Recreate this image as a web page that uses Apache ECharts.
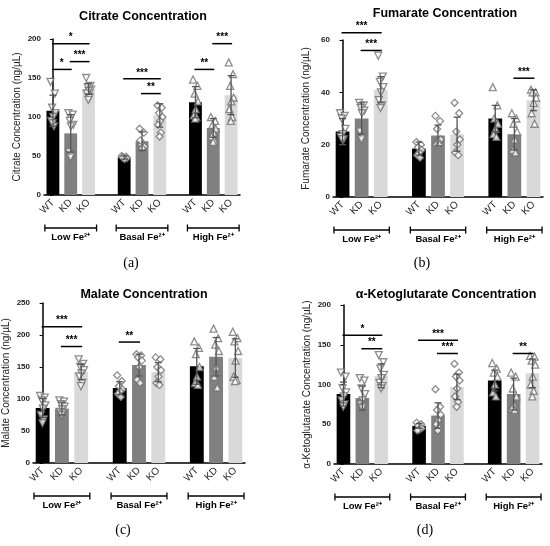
<!DOCTYPE html>
<html><head><meta charset="utf-8">
<script src="https://cdn.jsdelivr.net/npm/echarts@6/dist/echarts.min.js"></script>
<style>html,body{margin:0;padding:0;background:#fff}#c{width:550px;height:546px}</style>
</head><body><div id="c"></div>
<script>
const categories = ['WT','KD','KO'];
const groups = ['Low','Basal','High'];

const citrateMeans = [108,79,136, 48,69,102, 119,86,128];
const citrateSD    = [20,24,7, 2,12,15, 20,12,25];
const citratePts = [
 [145,130,112,105,100,95,88,92],[105,103,95,90,88,55,50,48],[150,140,138,135,133,130,125,122],
 [50,49,48,47,46,48],[85,80,65,62,60,70],[115,112,105,100,95,90,80,75],
 [148,140,130,120,110,102,100,98],[100,95,90,85,80,75,70,68],[170,155,140,125,120,110,100,95]];
const citrateSig = [[0,2,194,'*'],[0,1,161,'*'],[1,2,171,'***'],[4,6,149,'***'],[5,6,130,'**'],[8,9,161,'**'],[9,10,194,'***']];

const fumarateMeans = [25,30,41, 18.5,23.5,24, 30,24,37];
const fumarateSD    = [5,6,5, 2.5,4,6.5, 5,6,4];
const fumaratePts = [
 [32,31,30,26,24,23,22,22],[36,35,34,33,32,25,23,22],[54,46,44,42,40,37,35,34],
 [21,20,19,18,17,16,15],[31,29,26,22,21,20,20],[36,32,25,22,20,17,16],
 [42,35,30,28,26,24,23],[32,30,28,25,22,18,17],[41,40,40,38,36,32,28]];
const fumarateSig = [[0,2,62.8,'***'],[1,2,56,'***'],[9,10,45.4,'***']];

const malateMeans = [86,85,142, 117,153,142, 151,166,164];
const malateSD    = [15,10,12, 10,17,15, 28,30,30];
const malatePts = [
 [105,102,98,90,85,75,68,62],[98,96,92,88,84,80,78,75],[162,155,150,145,140,135,125,120],
 [137,128,120,115,112,108,103],[170,168,165,160,150,130,125],[165,162,150,145,135,125,122],
 [190,180,170,150,135,125,122],[210,195,185,175,150,135,118],[205,195,190,175,160,135,130,128]];
const malateSig = [[0,2,213,'***'],[1,2,182,'***'],[4,5,189,'**']];

const akgMeans = [88,83,111, 48,61,97, 105,88,114];
const akgSD    = [15,15,15, 3,16,16, 13,20,18];
const akgPts = [
 [115,110,95,90,85,80,75,72],[108,105,95,88,80,75,72,70],[137,128,120,112,108,102,98,95],
 [52,50,48,45,43,42],[94,72,68,62,55,50,45,42],[126,115,110,105,95,85,78,72],
 [127,120,115,110,100,90,85],[115,110,95,85,75,70,68],[136,135,130,125,110,100,92,85]];
const akgSig = [[0,2,162,'*'],[1,2,145,'**'],[4,6,155.6,'***'],[5,6,139,'***'],[9,10,139,'**']];

const panels = [
 {title:'Citrate Concentration', yname:'Citrate Concentration (ng/µL)', max:200, interval:50, means:citrateMeans, sd:citrateSD, pts:citratePts, sig:citrateSig,
  grid:{left:44,top:39,width:196,height:156}, tx:138, ty:5, letter:'(a)', lx:131, ly:256},
 {title:'Fumarate Concentration', yname:'Fumarate Concentration (ng/µL)', max:60, interval:20, means:fumarateMeans, sd:fumarateSD, pts:fumaratePts, sig:fumarateSig,
  grid:{left:333,top:40,width:210,height:157}, tx:440, ty:2, letter:'(b)', lx:422, ly:256},
 {title:'Malate Concentration', yname:'Malate Concentration (ng/µL)', max:250, interval:50, means:malateMeans, sd:malateSD, pts:malatePts, sig:malateSig,
  grid:{left:32,top:303,width:213,height:160}, tx:139, ty:283, letter:'(c)', lx:123, ly:523},
 {title:'α-Ketoglutarate Concentration', yname:'α-Ketoglutarate Concentration (ng/µL)', max:200, interval:50, means:akgMeans, sd:akgSD, pts:akgPts, sig:akgSig,
  grid:{left:334,top:305,width:208,height:159}, tx:441, ty:283, letter:'(d)', lx:425, ly:523}
];

const barColors = ['#000000','#808080','#d9d9d9'];
const shapes = ['triangle','diamond','triangle'];
const rots = [180,0,0];
const jit = [-0.22,0.18,-0.08,0.24,0.02,-0.16,0.1,-0.02];
const slotLabels = [];
for (let g=0; g<3; g++){ categories.forEach(c=>slotLabels.push(c)); if(g<2) slotLabels.push(''); }
const FONT = 'Liberation Sans, Arial, sans-serif';

const option = {animation:false, grid:[], xAxis:[], yAxis:[], series:[], title:[], graphic:[]};
panels.forEach((p,pi)=>{
  option.grid.push(Object.assign({containLabel:false}, p.grid));
  const xc = option.xAxis.length;
  option.xAxis.push({type:'category', gridIndex:pi, data:slotLabels, axisTick:{show:false},
    axisLine:{lineStyle:{color:'#000',width:1.5}},
    axisLabel:{rotate:45, fontSize:10, color:'#222', fontFamily:FONT, margin:6, interval:0}});
  const xv = option.xAxis.length;
  option.xAxis.push({type:'value', gridIndex:pi, min:-0.5, max:10.5, show:false});
  option.yAxis.push({type:'value', gridIndex:pi, min:0, max:p.max, interval:p.interval, splitLine:{show:false},
    axisLine:{show:true, lineStyle:{color:'#000',width:1.5}}, axisTick:{show:true, length:3, lineStyle:{color:'#000'}},
    axisLabel:{fontSize:8, fontWeight:'bold', color:'#222', fontFamily:FONT, margin:3},
    name:p.yname, nameLocation:'middle', nameRotate:90, nameGap:22,
    nameTextStyle:{fontSize:10, color:'#222', fontFamily:FONT}});
  const barData = [];
  const errData = [];
  for (let g=0; g<3; g++){
    for (let m=0; m<3; m++){
      const k=g*3+m, slot=g*4+m;
      barData[slot] = {value:p.means[k], itemStyle:{color:barColors[m]}};
      errData.push([slot, p.means[k], p.sd[k]]);
    }
    if (g<2) barData[g*4+3] = null;
  }
  option.series.push({type:'bar', xAxisIndex:xc, yAxisIndex:pi, data:barData, barWidth:'72%', z:1});
  for (let g=0; g<3; g++){
    const d=[];
    for (let m=0;m<3;m++){ p.pts[g*3+m].forEach((v,i)=>d.push([g*4+m+jit[i%jit.length]*0.6, v])); }
    option.series.push({type:'scatter', xAxisIndex:xv, yAxisIndex:pi, data:d, symbol:shapes[g], symbolRotate:rots[g],
      symbolSize:7, itemStyle:{color:'#fff', borderColor:'#707070', borderWidth:1.3}, z:3});
  }
  option.series.push({type:'custom', xAxisIndex:xv, yAxisIndex:pi, data:errData, z:4,
    renderItem:(params,api)=>{
      const x=api.value(0), m=api.value(1), s=api.value(2);
      const top=api.coord([x,m+s]), bot=api.coord([x,m-s]);
      const st={stroke:'#555', lineWidth:1.3};
      return {type:'group', children:[
        {type:'line', shape:{x1:top[0],y1:top[1],x2:bot[0],y2:bot[1]}, style:st},
        {type:'line', shape:{x1:top[0]-3.5,y1:top[1],x2:top[0]+3.5,y2:top[1]}, style:st},
        {type:'line', shape:{x1:bot[0]-3.5,y1:bot[1],x2:bot[0]+3.5,y2:bot[1]}, style:st}]};
    }});
  option.series.push({type:'custom', xAxisIndex:xv, yAxisIndex:pi, data:p.sig, z:5, clip:false,
    renderItem:(params,api)=>{
      const a=api.coord([api.value(0),api.value(2)]), b=api.coord([api.value(1),api.value(2)]);
      return {type:'group', children:[
        {type:'line', shape:{x1:a[0]-1,y1:a[1],x2:b[0]+1,y2:b[1]}, style:{stroke:'#000',lineWidth:1.5}},
        {type:'text', x:(a[0]+b[0])/2, y:a[1]-1, style:{text:p.sig[params.dataIndex][3], fontSize:10, fontWeight:'bold', fill:'#000', align:'center', verticalAlign:'bottom', fontFamily:FONT}}]};
    }});
  const grp = groups.map((g,i)=>[i*4-0.45, i*4+2.45, g]);
  option.series.push({type:'custom', xAxisIndex:xv, yAxisIndex:pi, data:grp, z:5, clip:false,
    renderItem:(params,api)=>{
      const a=api.coord([api.value(0),0]), b=api.coord([api.value(1),0]);
      const y=a[1]+33;
      const st={stroke:'#000',lineWidth:1.3};
      return {type:'group', children:[
        {type:'line', shape:{x1:a[0],y1:y,x2:b[0],y2:y}, style:st},
        {type:'line', shape:{x1:a[0],y1:y-3.5,x2:a[0],y2:y+3.5}, style:st},
        {type:'line', shape:{x1:b[0],y1:y-3.5,x2:b[0],y2:y+3.5}, style:st},
        {type:'text', x:(a[0]+b[0])/2, y:y+4, style:{text:grp[params.dataIndex][2]+' Fe²⁺', align:'center', verticalAlign:'top',
          fontSize:9.5, fontWeight:'bold', fill:'#000', fontFamily:FONT}}]};
    }});
  option.title.push({text:p.title, left:p.tx, top:p.ty, textAlign:'center',
    textStyle:{fontSize:12.5, fontWeight:'bold', color:'#000', fontFamily:FONT}});
  option.graphic.push({type:'text', x:p.lx, y:p.ly, style:{text:p.letter, fontSize:14, fill:'#000', fontFamily:'Liberation Serif, Times New Roman, serif', align:'center'}});
});
const chart = echarts.init(document.getElementById('c'));
chart.setOption(option);
</script></body></html>
